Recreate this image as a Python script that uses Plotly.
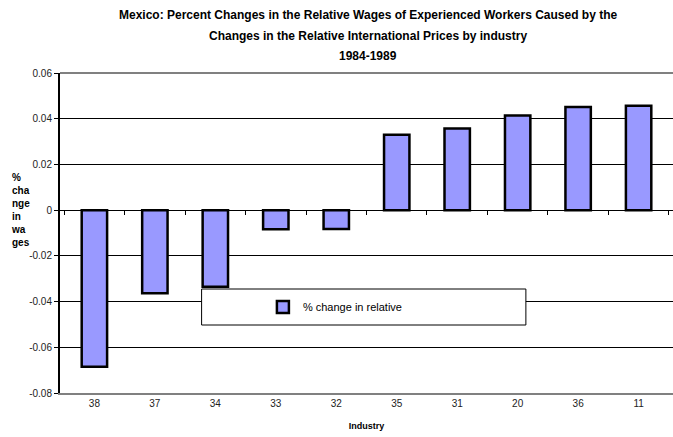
import plotly.graph_objects as go

industries = ["38", "37", "34", "33", "32", "35", "31", "20", "36", "11"]
pct_change = [-0.0685, -0.0364, -0.0335, -0.0084, -0.0083, 0.0330, 0.0357, 0.0414, 0.0451, 0.0457]
y_tickvals = [-0.08, -0.06, -0.04, -0.02, 0, 0.02, 0.04, 0.06]
y_ticktext = ["-0.08", "-0.06", "-0.04", "-0.02", "0", "0.02", "0.04", "0.06"]
title_lines = [
    "Mexico: Percent Changes in the Relative Wages of Experienced Workers Caused by the",
    "Changes in the Relative International Prices by industry",
    "1984-1989",
]

FONT = "Liberation Sans, Arial, sans-serif"
PLOT_TOP, PLOT_BOTTOM = 73, 393
PLOT_H = PLOT_BOTTOM - PLOT_TOP


def py(px):
    """pixel row -> paper y"""
    return (PLOT_BOTTOM - px) / PLOT_H


fig = go.Figure()
fig.add_trace(go.Bar(
    x=industries, y=pct_change, name="% change in relative",
    marker=dict(color="#9999FF", line=dict(color="black", width=2.5)),
    width=0.42,
))
# invisible trace for the category tick axis crossing at zero
fig.add_trace(go.Scatter(x=industries, y=[0]*len(industries), xaxis="x2",
                         mode="markers", marker=dict(opacity=0), showlegend=False,
                         hoverinfo="skip"))

ymin, ymax = -0.08, 0.06
zero_pos = (0 - ymin) / (ymax - ymin)

annotations = []
for i, (line, ypx) in enumerate(zip(title_lines, [15, 36, 56])):
    annotations.append(dict(
        text=line, xref="paper", yref="paper", x=0.503, y=py(ypx),
        xanchor="center", yanchor="middle", showarrow=False,
        font=dict(size=12, family=FONT, color="black", weight="bold")))
annotations.append(dict(
    text="%<br>cha<br>nge<br>in<br>wa<br>ges", xref="paper", yref="paper",
    x=-0.084, y=py(210), xanchor="left", yanchor="middle", align="left",
    showarrow=False, font=dict(size=10, family=FONT, weight="bold")))

fig.update_layout(
    width=673, height=437,
    margin=dict(l=60, r=0, t=PLOT_TOP, b=437 - PLOT_BOTTOM, autoexpand=False),
    paper_bgcolor="white", plot_bgcolor="white",
    font=dict(family=FONT, size=10, color="black"),
    bargap=0.58,
    xaxis=dict(
        type="category", categoryorder="array", categoryarray=industries,
        automargin=False,
        showline=True, linecolor="#808080", linewidth=2,
        ticks="", showgrid=False, zeroline=False,
        tickfont=dict(size=10, family=FONT, color="#222"),
        title=dict(text="Industry", font=dict(size=9, family=FONT, weight="bold"), standoff=15),
    ),
    xaxis2=dict(
        type="category", categoryorder="array", categoryarray=industries,
        overlaying="x", anchor="free", position=zero_pos, matches="x",
        automargin=False,
        showline=True, linecolor="black", linewidth=1,
        ticks="outside", tickson="boundaries", ticklen=4, tickcolor="black",
        showticklabels=False, showgrid=False, zeroline=False,
    ),
    yaxis=dict(
        range=[ymin, ymax], tickvals=y_tickvals, ticktext=y_ticktext,
        automargin=False,
        showline=True, linecolor="black", linewidth=2,
        ticks="outside", ticklen=4, tickcolor="black",
        showgrid=True, gridcolor="black", gridwidth=1,
        zeroline=False,
        tickfont=dict(size=10, family=FONT, color="#222"),
    ),
    legend=dict(
        x=0.331, y=py(307), xanchor="left", yanchor="middle",
        bgcolor="rgba(0,0,0,0)", borderwidth=0,
        font=dict(size=11, family=FONT, color="black"),
        itemwidth=30,
    ),
    showlegend=True,
    shapes=[
        dict(type="line", xref="paper", yref="paper", x0=0, x1=1, y0=1, y1=1,
             line=dict(color="#808080", width=2), layer="above"),
        dict(type="rect", xref="paper", yref="paper", x0=0.231, x1=0.760,
             y0=py(325), y1=py(289), fillcolor="white",
             line=dict(color="black", width=1), layer="above"),
    ],
    annotations=annotations,
)

fig.write_html("out.html",
               config={"displayModeBar": False},
               post_script="document.body.style.margin='0';document.body.style.overflow='hidden';")
